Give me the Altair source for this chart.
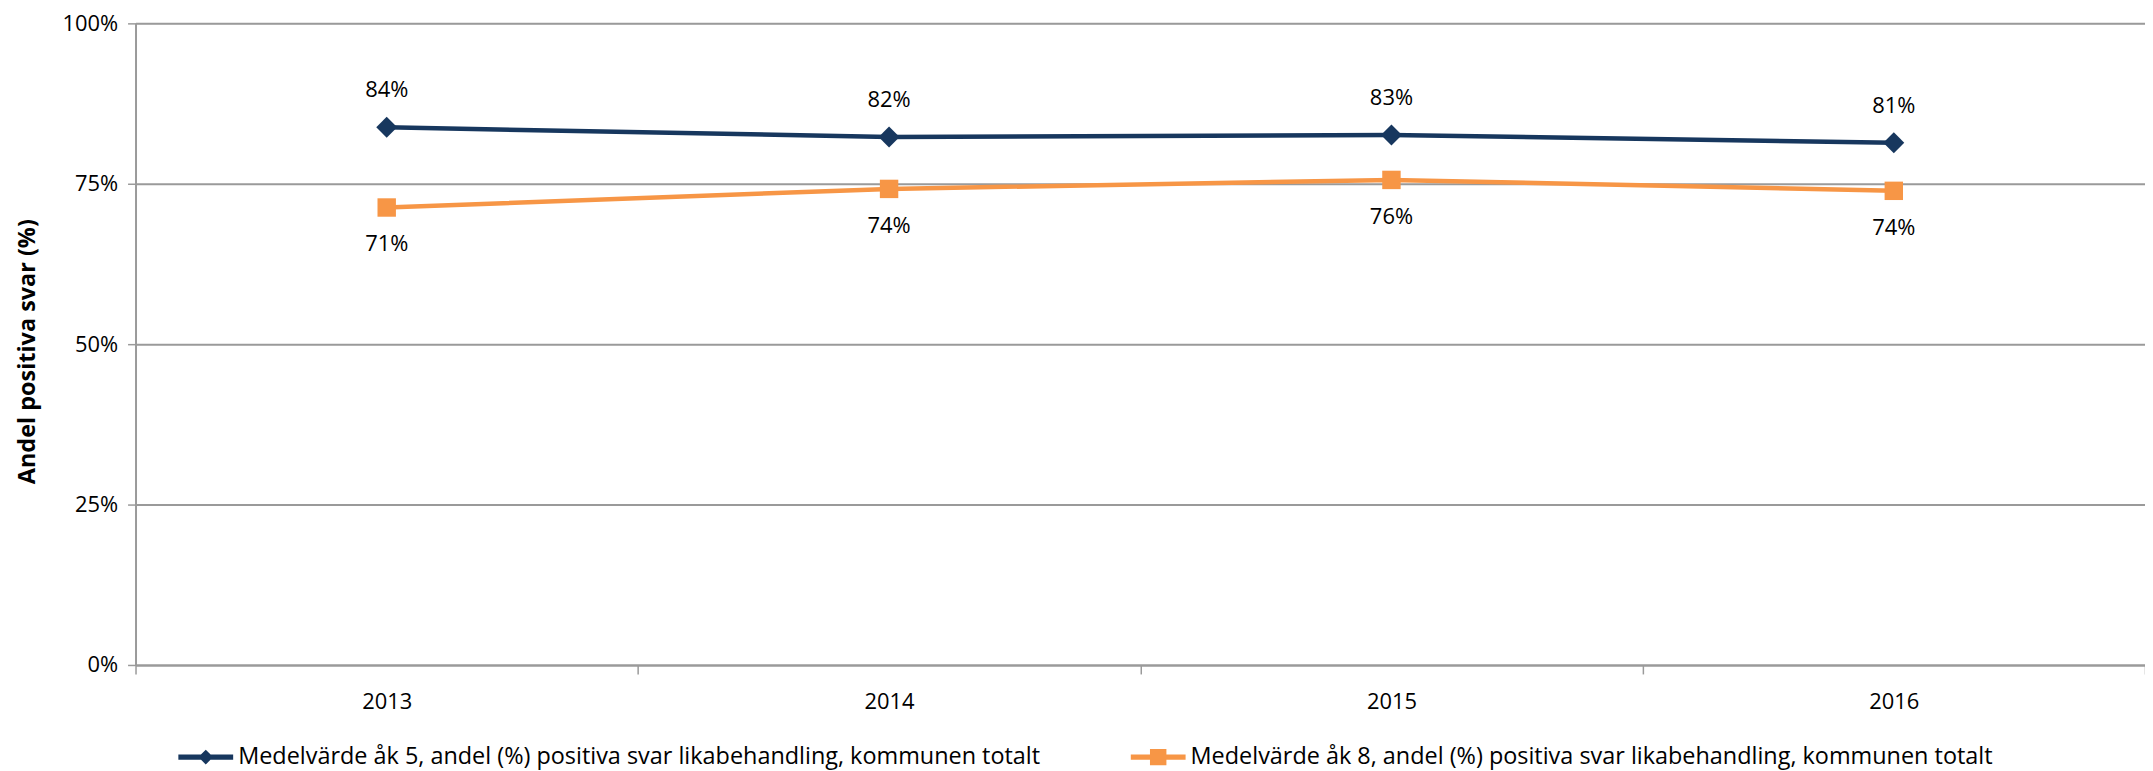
import altair as alt
import pandas as pd

years = ["2013", "2014", "2015", "2016"]
series_names = [
    "Medelvärde åk 5, andel (%) positiva svar likabehandling, kommunen totalt",
    "Medelvärde åk 8, andel (%) positiva svar likabehandling, kommunen totalt",
]
ak5_values = [0.838, 0.823, 0.826, 0.814]
ak8_values = [0.713, 0.742, 0.756, 0.739]
series_colors = ["#17375E", "#F79646"]
series_shapes = ["diamond", "square"]
y_ticks = [0, 0.25, 0.5, 0.75, 1.0]

rows = []
for name, vals in zip(series_names, [ak5_values, ak8_values]):
    for yr, v in zip(years, vals):
        rows.append({"year": yr, "value": v, "serie": name})
df = pd.DataFrame(rows)

FONT = "Open Sans"

legend_diamond = "M-1,-0.095L1,-0.095L1,0.095L-1,0.095Z M0,-0.27L0.27,0L0,0.27L-0.27,0Z"
legend_square = "M-1,-0.095L1,-0.095L1,0.095L-1,0.095Z M-0.3,-0.3L0.3,-0.3L0.3,0.3L-0.3,0.3Z"

x_enc = alt.X(
    "year:O",
    bandPosition=0.5,
    scale=alt.Scale(type="band", paddingInner=0, paddingOuter=0, domain=years),
    axis=alt.Axis(
        title=None, labelAngle=0, tickBand="extent", grid=False,
        labelFont=FONT, labelFontSize=22, labelColor="black", labelPadding=18,
        tickSize=9, tickColor="#9a9a9a", tickWidth=1.5,
        domainColor="#9a9a9a", domainWidth=2,
    ),
)
y_enc = alt.Y(
    "value:Q",
    scale=alt.Scale(domain=[0, 1], nice=False),
    axis=alt.Axis(
        values=y_ticks, format=".0%", title="Andel positiva svar (%)",
        titleFont=FONT, titleFontSize=23.5, titleFontWeight="bold", titleColor="black",
        titleAngle=-90, titleX=-108, titleY=329, titleAlign="center", titleBaseline="middle",
        labelFont=FONT, labelFontSize=22, labelColor="black", labelPadding=10,
        tickSize=8, tickColor="#9a9a9a", tickWidth=1.5,
        domainColor="#9a9a9a", domainWidth=2,
        grid=True, gridColor="#9a9a9a", gridWidth=2,
    ),
)


def cscale():
    return alt.Scale(domain=series_names, range=series_colors)


lines = alt.Chart(df).mark_line(strokeWidth=4.5).encode(
    x=x_enc, y=y_enc,
    color=alt.Color("serie:N", scale=cscale(), legend=None),
)

points = alt.Chart(df).mark_point(filled=True, opacity=1).encode(
    x=x_enc, y=y_enc,
    color=alt.Color("serie:N", scale=cscale(), legend=None),
    shape=alt.Shape("serie:N", scale=alt.Scale(domain=series_names, range=series_shapes), legend=None),
    size=alt.Size("serie:N", scale=alt.Scale(domain=series_names, range=[441, 342]), legend=None),
)

legend = alt.Legend(
    orient="none", legendX=43, legendY=709, direction="horizontal", title=None,
    labelFont=FONT, labelFontSize=23.5, labelColor="black", labelOffset=5,
    columnPadding=90, symbolSize=3025, labelLimit=0,
    symbolStrokeWidth=0, symbolOpacity=1,
)

legend_layer = alt.Chart(df).transform_filter("false").mark_point(filled=True).encode(
    x=x_enc, y=y_enc,
    color=alt.Color("serie:N", scale=cscale(), legend=legend),
    shape=alt.Shape("serie:N", scale=alt.Scale(domain=series_names, range=[legend_diamond, legend_square]), legend=legend),
)

labels_top = alt.Chart(df).transform_filter(
    alt.datum.serie == series_names[0]
).mark_text(font=FONT, fontSize=22, color="black", dy=-37).encode(
    x=x_enc, y=y_enc, text=alt.Text("value:Q", format=".0%"),
)
labels_bottom = alt.Chart(df).transform_filter(
    alt.datum.serie == series_names[1]
).mark_text(font=FONT, fontSize=22, color="black", dy=37).encode(
    x=x_enc, y=y_enc, text=alt.Text("value:Q", format=".0%"),
)

chart = alt.layer(lines, points, labels_top, labels_bottom, legend_layer).resolve_scale(
    color="independent", shape="independent", size="independent"
).properties(
    width=2017, height=644,
    autosize=alt.AutoSizeParams(type="none"),
    padding={"left": 128, "top": 14, "right": 0, "bottom": 105},
).configure_view(stroke=None).configure(background="white")

chart.save("out.html", embed_options={"renderer": "svg", "actions": False})
